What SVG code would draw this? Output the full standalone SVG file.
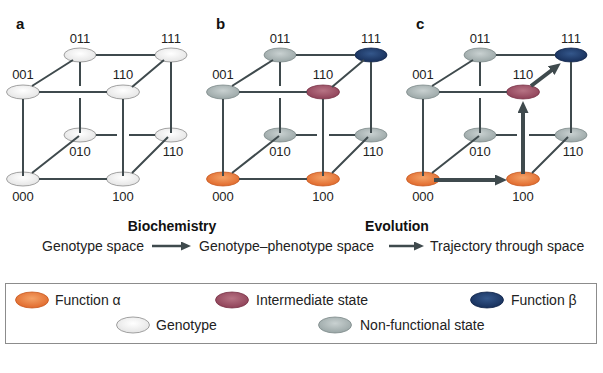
<svg xmlns="http://www.w3.org/2000/svg" width="603" height="373" viewBox="0 0 603 373">
<defs>
<radialGradient id="gWhite" cx="50%" cy="40%" r="60%"><stop offset="0" stop-color="#ffffff"/><stop offset="1" stop-color="#e4e4e4"/></radialGradient>
<radialGradient id="gGray" cx="50%" cy="40%" r="60%"><stop offset="0" stop-color="#c9d1d1"/><stop offset="1" stop-color="#9aa6a6"/></radialGradient>
<radialGradient id="gOrange" cx="50%" cy="40%" r="60%"><stop offset="0" stop-color="#f4a267"/><stop offset="1" stop-color="#e0692c"/></radialGradient>
<radialGradient id="gMauve" cx="50%" cy="40%" r="60%"><stop offset="0" stop-color="#b77384"/><stop offset="1" stop-color="#8e4157"/></radialGradient>
<radialGradient id="gBlue" cx="50%" cy="40%" r="60%"><stop offset="0" stop-color="#34578b"/><stop offset="1" stop-color="#172f5a"/></radialGradient>
<marker id="bigHead" markerUnits="userSpaceOnUse" markerWidth="12" markerHeight="11" refX="1" refY="5.5" orient="auto"><path d="M0,0 L12,5.5 L0,11 z" fill="#3f4a4d"/></marker>
<marker id="smallHead" markerUnits="userSpaceOnUse" markerWidth="10" markerHeight="9" refX="1" refY="4.5" orient="auto"><path d="M0,0 L10,4.5 L0,9 z" fill="#3f4a4d"/></marker>
</defs>
<style>
.edge{stroke:#3f4a4d;stroke-width:2;fill:none}
.thick{stroke:#3f4a4d;stroke-width:4;fill:none}
.thin{stroke:#3f4a4d;stroke-width:2.5;fill:none}
.lbl{font-family:"Liberation Sans",Arial,sans-serif;font-size:13px;fill:#222;text-anchor:middle}
.txt{font-family:"Liberation Sans",Arial,sans-serif;font-size:14px;fill:#222}
.hd{font-family:"Liberation Sans",Arial,sans-serif;font-size:14px;font-weight:bold;fill:#111;text-anchor:middle}
.pl{font-family:"Liberation Sans",Arial,sans-serif;font-size:15px;font-weight:bold;fill:#111}
.w{fill:url(#gWhite);stroke:#8c8c8c;stroke-width:0.8}
.g{fill:url(#gGray);stroke:#7d8a8a;stroke-width:0.8}
.o{fill:url(#gOrange);stroke:#c85a22;stroke-width:0.8}
.m{fill:url(#gMauve);stroke:#7a3447;stroke-width:0.8}
.b{fill:url(#gBlue);stroke:#10254a;stroke-width:0.8}
</style>
<rect width="603" height="373" fill="#ffffff"/>

<!-- Panel a -->
<text class="pl" x="16" y="29">a</text>
<g id="a-011"><ellipse class="w" cx="80" cy="55" rx="16" ry="7"/><text class="lbl" x="80" y="43">011</text></g>
<g id="a-111"><ellipse class="w" cx="171" cy="55" rx="16" ry="7"/><text class="lbl" x="171" y="43">111</text></g>
<g id="a-001"><ellipse class="w" cx="23" cy="92" rx="16.5" ry="7"/><text class="lbl" x="23" y="79">001</text></g>
<g id="a-110f"><ellipse class="w" cx="123" cy="92" rx="16.5" ry="7"/><text class="lbl" x="123" y="79">110</text></g>
<g id="a-010"><ellipse class="w" cx="80" cy="135" rx="16" ry="7"/><text class="lbl" x="80" y="156">010</text></g>
<g id="a-110b"><ellipse class="w" cx="171" cy="135" rx="16" ry="7"/><text class="lbl" x="173" y="156">110</text></g>
<g id="a-000"><ellipse class="w" cx="23" cy="179" rx="16.5" ry="7"/><text class="lbl" x="23" y="201">000</text></g>
<g id="a-100"><ellipse class="w" cx="123" cy="179" rx="16.5" ry="7"/><text class="lbl" x="123" y="201">100</text></g>

<!-- Panel b -->
<text class="pl" x="216" y="29">b</text>
<g id="b-011"><ellipse class="g" cx="280" cy="55" rx="16" ry="7"/><text class="lbl" x="280" y="43">011</text></g>
<g id="b-111"><ellipse class="b" cx="371" cy="55" rx="16" ry="7"/><text class="lbl" x="371" y="43">111</text></g>
<g id="b-001"><ellipse class="g" cx="223" cy="92" rx="16.5" ry="7"/><text class="lbl" x="223" y="79">001</text></g>
<g id="b-110f"><ellipse class="m" cx="323" cy="92" rx="16.5" ry="7"/><text class="lbl" x="323" y="79">110</text></g>
<g id="b-010"><ellipse class="g" cx="280" cy="135" rx="16" ry="7"/><text class="lbl" x="280" y="156">010</text></g>
<g id="b-110b"><ellipse class="g" cx="371" cy="135" rx="16" ry="7"/><text class="lbl" x="373" y="156">110</text></g>
<g id="b-000"><ellipse class="o" cx="223" cy="179" rx="16.5" ry="7"/><text class="lbl" x="223" y="201">000</text></g>
<g id="b-100"><ellipse class="o" cx="323" cy="179" rx="16.5" ry="7"/><text class="lbl" x="323" y="201">100</text></g>

<!-- Panel c -->
<text class="pl" x="416" y="29">c</text>
<g id="c-011"><ellipse class="g" cx="480" cy="55" rx="16" ry="7"/><text class="lbl" x="480" y="43">011</text></g>
<g id="c-111"><ellipse class="b" cx="571" cy="55" rx="16" ry="7"/><text class="lbl" x="571" y="43">111</text></g>
<g id="c-001"><ellipse class="g" cx="423" cy="92" rx="16.5" ry="7"/><text class="lbl" x="423" y="79">001</text></g>
<g id="c-110f"><ellipse class="m" cx="523" cy="92" rx="16.5" ry="7"/><text class="lbl" x="523" y="79">110</text></g>
<g id="c-010"><ellipse class="g" cx="480" cy="135" rx="16" ry="7"/><text class="lbl" x="480" y="156">010</text></g>
<g id="c-110b"><ellipse class="g" cx="571" cy="135" rx="16" ry="7"/><text class="lbl" x="573" y="156">110</text></g>
<g id="c-000"><ellipse class="o" cx="423" cy="179" rx="16.5" ry="7"/><text class="lbl" x="423" y="201">000</text></g>
<g id="c-100"><ellipse class="o" cx="523" cy="179" rx="16.5" ry="7"/><text class="lbl" x="523" y="201">100</text></g>

<g id="connectors">
  <!-- panel a -->
  <path class="edge" d="M96,55 H155 M39,92 H107 M96,135 H117 M129,135 H155 M39,179 H107
    M80,62 V86 M80,98 V133 M171,62 V133 M23,99 V176 M123,99 V176
    M32,86 L73,60 M132,87 L164,60 M32,173 L79,136 M132,173 L168,137"/>
  <!-- panel b -->
  <path class="edge" d="M296,55 H355 M239,92 H307 M296,135 H317 M329,135 H355 M239,179 H307
    M280,62 V86 M280,98 V133 M371,62 V133 M223,99 V176 M323,99 V176
    M232,86 L273,60 M332,87 L364,60 M232,173 L279,136 M332,173 L368,137"/>
  <!-- panel c -->
  <path class="edge" d="M496,55 H555 M439,92 H507 M496,135 H517 M529,135 H555
    M480,62 V86 M480,98 V133 M571,62 V133 M423,99 V176
    M432,86 L473,60 M432,173 L479,136 M532,173 L568,137"/>
  <line class="thick" x1="434" y1="180" x2="496" y2="180" marker-end="url(#bigHead)"/>
  <line class="thick" x1="523" y1="174" x2="523" y2="112" marker-end="url(#bigHead)"/>
  <line class="thick" x1="531" y1="86" x2="552" y2="70" marker-end="url(#bigHead)"/>
  <!-- text row arrows -->
  <line class="thin" x1="152" y1="246" x2="182" y2="246" marker-end="url(#smallHead)"/>
  <line class="thin" x1="389" y1="246" x2="415" y2="246" marker-end="url(#smallHead)"/>
</g>

<text class="hd" x="172" y="231">Biochemistry</text>
<text class="hd" x="397" y="231">Evolution</text>
<text class="txt" x="42" y="251">Genotype space</text>
<text class="txt" x="199" y="251">Genotype–phenotype space</text>
<text class="txt" x="430" y="251">Trajectory through space</text>

<g id="legend">
  <rect x="5.5" y="283.5" width="591" height="60" fill="none" stroke="#8c8c8c" stroke-width="1"/>
  <g id="leg-alpha"><ellipse class="o" cx="32" cy="300" rx="16.5" ry="8"/><text class="txt" x="55" y="305">Function α</text></g>
  <g id="leg-inter"><ellipse class="m" cx="232" cy="300" rx="16.5" ry="8"/><text class="txt" x="256" y="305">Intermediate state</text></g>
  <g id="leg-beta"><ellipse class="b" cx="487" cy="300" rx="16.5" ry="8"/><text class="txt" x="511" y="305">Function β</text></g>
  <g id="leg-geno"><ellipse class="w" cx="133" cy="325" rx="16.5" ry="8"/><text class="txt" x="156" y="330">Genotype</text></g>
  <g id="leg-nonf"><ellipse class="g" cx="335" cy="325" rx="16.5" ry="8"/><text class="txt" x="360" y="330">Non-functional state</text></g>
</g>
</svg>
